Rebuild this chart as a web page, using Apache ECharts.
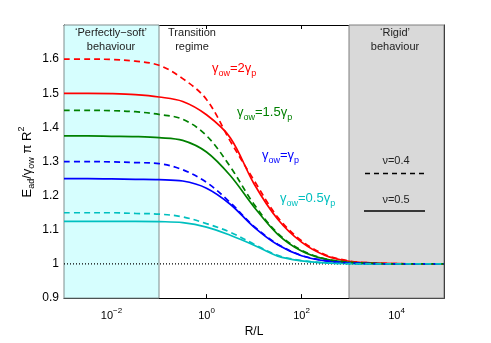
<!DOCTYPE html>
<html>
<head>
<meta charset="utf-8">
<script src="https://cdn.jsdelivr.net/npm/echarts@6/dist/echarts.min.js"></script>
<style>
html, body { margin: 0; padding: 0; background: #fff; }
#main { width: 491px; height: 343px; }
</style>
</head>
<body>
<div id="main"></div>
<script>
// R/L values (log axis), half-decade steps
var rL = [0.001, 0.00316, 0.01, 0.0316, 0.1, 0.316, 1, 3.16, 10, 31.6, 100, 316, 1000, 3162, 10000, 31623, 100000];

// nu = 0.5 (solid) and nu = 0.4 (dashed)
var redSolid   = [1.5, 1.5, 1.499, 1.496, 1.489, 1.476, 1.437, 1.37, 1.235, 1.131, 1.064, 1.025, 1.008, 1.003, 1.001, 1.0, 1.0];
var redDash    = [1.6, 1.6, 1.599, 1.594, 1.582, 1.543, 1.482, 1.36, 1.245, 1.137, 1.068, 1.027, 1.009, 1.003, 1.001, 1.0, 1.0];
var greenSolid = [1.375, 1.375, 1.374, 1.373, 1.37, 1.362, 1.328, 1.259, 1.167, 1.087, 1.038, 1.014, 1.005, 1.002, 1.0, 1.0, 1.0];
var greenDash  = [1.45, 1.45, 1.449, 1.446, 1.438, 1.424, 1.376, 1.285, 1.175, 1.09, 1.04, 1.015, 1.005, 1.002, 1.0, 1.0, 1.0];
var blueSolid  = [1.25, 1.25, 1.249, 1.248, 1.247, 1.243, 1.222, 1.175, 1.108, 1.056, 1.024, 1.009, 1.003, 1.001, 1.0, 1.0, 1.0];
var blueDash   = [1.3, 1.3, 1.299, 1.297, 1.294, 1.276, 1.239, 1.18, 1.11, 1.058, 1.025, 1.01, 1.003, 1.001, 1.0, 1.0, 1.0];
var cyanSolid  = [1.125, 1.125, 1.125, 1.125, 1.124, 1.121, 1.108, 1.084, 1.055, 1.023, 1.009, 1.003, 1.001, 1.0, 1.0, 1.0, 1.0];
var cyanDash   = [1.15, 1.15, 1.15, 1.148, 1.146, 1.138, 1.118, 1.093, 1.058, 1.025, 1.01, 1.003, 1.001, 1.0, 1.0, 1.0, 1.0];

var xTicks = [0.01, 1, 100, 10000];
var softRange = [0.001, 0.1];
var rigidRange = [1000, 100000];

var font = 'Liberation Sans, Arial, Helvetica, sans-serif';

function pairs(ys) {
	var out = [];
	for (var i = 0; i < rL.length; i++) {
		out.push([rL[i], ys[i]]);
	}
	return out;
}

function curve(ys, color, dashed) {
	return {
		type: 'line',
		data: pairs(ys),
		smooth: 0.35,
		symbol: 'none',
		z: dashed ? 4 : 3,
		lineStyle: { color: color, width: 1.7, type: dashed ? [6, 4] : 'solid' },
		silent: true
	};
}

function richFor(color) {
	return {
		b: { fontSize: 13, fontFamily: font, fill: color },
		s: { fontSize: 9, fontFamily: font, fill: color, padding: [10, 0, 0, 0] }
	};
}

function curveLabel(x, y, txt, color) {
	return {
		type: 'text', left: x, top: y, z: 10, silent: true,
		style: { text: txt, rich: richFor(color), fill: color }
	};
}

function plainText(cx, y, txt) {
	return {
		type: 'text', x: cx, y: y, z: 10, silent: true,
		style: { text: txt, font: '11px ' + font, fill: '#222', align: 'center', verticalAlign: 'middle' }
	};
}

var myChart = echarts.init(document.getElementById('main'));

var option = {
	animation: false,
	backgroundColor: '#fff',
	grid: { left: 64, top: 25, right: 47, bottom: 38, show: false },
	xAxis: [{
		type: 'log', logBase: 10, min: 0.001, max: 100000,
		position: 'bottom',
		axisLine: { lineStyle: { color: '#000', width: 1 } },
		axisTick: { inside: true, length: 4, customValues: xTicks, lineStyle: { color: '#000' } },
		axisLabel: {
			customValues: xTicks, margin: 9, color: '#000',
			formatter: function (v) {
				var e = Math.round(Math.log(v) / Math.LN10);
				var s = e < 0 ? '\u2212' + (-e) : String(e);
				return '{b|10}{p|' + s + '}';
			},
			rich: {
				b: { fontSize: 11, fontFamily: font, color: '#000' },
				p: { fontSize: 8, fontFamily: font, color: '#000', padding: [0, 0, 9, 0] }
			}
		},
		splitLine: { show: false },
		minorTick: { show: false },
		name: 'R/L', nameLocation: 'middle', nameGap: 24,
		nameTextStyle: { fontSize: 12, fontFamily: font, color: '#000' }
	}, {
		type: 'log', logBase: 10, min: 0.001, max: 100000,
		position: 'top',
		axisLine: { lineStyle: { color: '#000', width: 1 } },
		axisTick: { inside: true, length: 4, customValues: xTicks, lineStyle: { color: '#000' } },
		axisLabel: { show: false },
		splitLine: { show: false }
	}],
	yAxis: [{
		type: 'value', min: 0.9, max: 1.7, interval: 0.1,
		axisLine: { show: true, lineStyle: { color: '#000', width: 1 } },
		axisTick: { show: true, inside: true, length: 4, lineStyle: { color: '#000' } },
		axisLabel: {
			margin: 5, color: '#000', fontSize: 12, fontFamily: font,
			formatter: function (v) {
				if (v > 1.65) return '';
				return String(Math.round(v * 10) / 10);
			}
		},
		splitLine: { show: false }
	}, {
		type: 'value', min: 0.9, max: 1.7, interval: 0.1,
		position: 'right',
		axisLine: { show: true, lineStyle: { color: '#000', width: 1 } },
		axisTick: { show: true, inside: true, length: 4, lineStyle: { color: '#000' } },
		axisLabel: { show: false },
		splitLine: { show: false }
	}],
	series: [
		{
			type: 'line',
			data: [[0.001, 1], [100000, 1]],
			symbol: 'none',
			silent: true,
			z: 2,
			lineStyle: { color: '#000', width: 1.2, type: [1, 2] },
			markArea: {
				silent: true,
				data: [
					[{ xAxis: softRange[0], itemStyle: { color: '#d6fefe', borderColor: '#7f8c8c', borderWidth: 1 } }, { xAxis: softRange[1] }],
					[{ xAxis: rigidRange[0], itemStyle: { color: '#d9d9d9', borderColor: '#7f7f7f', borderWidth: 1 } }, { xAxis: rigidRange[1] }]
				]
			}
		},
		curve(redDash, '#ff0000', true),
		curve(redSolid, '#ff0000', false),
		curve(greenDash, '#008000', true),
		curve(greenSolid, '#008000', false),
		curve(blueDash, '#0000ff', true),
		curve(blueSolid, '#0000ff', false),
		curve(cyanDash, '#00bfbf', true),
		curve(cyanSolid, '#00bfbf', false)
	],
	graphic: [
		plainText(111, 33, '\u2018Perfectly\u2212soft\u2019'),
		plainText(111, 47, 'behaviour'),
		plainText(192, 33, 'Transition'),
		plainText(192, 47, 'regime'),
		plainText(395, 33, '\u2018Rigid\u2019'),
		plainText(395, 47, 'behaviour'),
		curveLabel(212, 62, '{b|\u03b3}{s|ow}{b|=2\u03b3}{s|p}', '#ff0000'),
		curveLabel(237, 106, '{b|\u03b3}{s|ow}{b|=1.5\u03b3}{s|p}', '#008000'),
		curveLabel(262, 149, '{b|\u03b3}{s|ow}{b|=\u03b3}{s|p}', '#0000ff'),
		curveLabel(280, 192, '{b|\u03b3}{s|ow}{b|=0.5\u03b3}{s|p}', '#00bfbf'),
		plainText(396, 161, '\u03bd=0.4'),
		{
			type: 'line', z: 10, silent: true,
			shape: { x1: 365, y1: 173.5, x2: 424, y2: 173.5 },
			style: { stroke: '#000', lineWidth: 1.7, lineDash: [5, 4] }
		},
		plainText(396, 200, '\u03bd=0.5'),
		{
			type: 'line', z: 10, silent: true,
			shape: { x1: 364, y1: 211, x2: 425, y2: 211 },
			style: { stroke: '#000', lineWidth: 1.7 }
		},
		{
			type: 'text', x: 27, y: 162, rotation: Math.PI / 2, z: 10, silent: true,
			style: {
				text: '{b|E}{s|ad}{b|/\u03b3}{s|ow}{b| \u03c0 R}{p|2}',
				align: 'center', verticalAlign: 'middle',
				rich: {
					b: { fontSize: 13, fontFamily: font, fill: '#000' },
					s: { fontSize: 9, fontFamily: font, fill: '#000', padding: [10, 0, 0, 0] },
					p: { fontSize: 9, fontFamily: font, fill: '#000', padding: [0, 0, 10, 0] }
				}
			}
		}
	]
};

myChart.setOption(option);
</script>
</body>
</html>
